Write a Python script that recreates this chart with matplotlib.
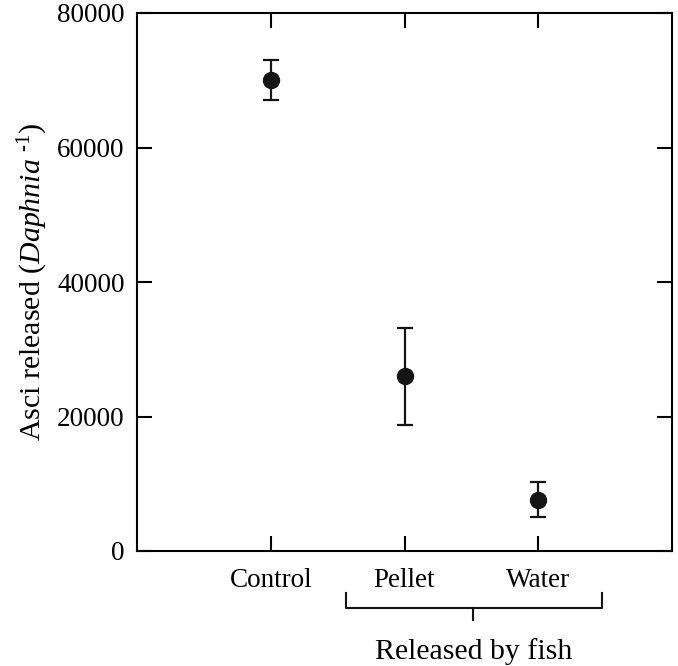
import numpy as np
import matplotlib
matplotlib.use("Agg")
import matplotlib.pyplot as plt
import matplotlib.transforms as mtransforms

groups = ["Control", "Pellet", "Water"]
asci = [70000, 26000, 7600]
err = [3000, 7200, 2600]

plt.rcParams["font.family"] = ["Liberation Serif", "DejaVu Serif"]
plt.rcParams["mathtext.fontset"] = "custom"
plt.rcParams["mathtext.rm"] = "Liberation Serif"
plt.rcParams["mathtext.it"] = "Liberation Serif:italic"

fig = plt.figure(figsize=[6.78, 6.66], dpi=100)
ax = fig.add_axes([137/678, 1-551/666, 535/678, 538/666])

x = np.arange(1, len(groups)+1)
ax.errorbar(x, asci, yerr=err, fmt="o", color="#141414", ms=11.5,
            elinewidth=1.6, capsize=6, capthick=1.6)

ax.set_xlim(0, 4)
ax.set_ylim(0, 80000)
ax.set_yticks([0, 20000, 40000, 60000, 80000])
ax.set_xticks(x)
ax.set_xticklabels(groups, fontsize=21.5)
for s in ax.spines.values():
    s.set_linewidth(1.5)
ax.tick_params(direction="in", length=11, width=1.5, top=True, right=True,
               labelsize=19.5, pad=9)
ax.tick_params(axis="x", pad=12)
ax.set_ylabel(r"Asci released ($\mathit{Daphnia}$ $^{\text{-1}}$)", fontsize=21.5, labelpad=5)

# brace under Pellet and Water
tr = mtransforms.blended_transform_factory(ax.transData, ax.transAxes)
bx0, bx1, bxc = 1.56, 3.48, 2.515
ax.plot([bx0, bx0, bx1, bx1], [-0.078, -0.106, -0.106, -0.078], color="#141414",
        lw=1.5, transform=tr, clip_on=False)
ax.plot([bxc, bxc], [-0.106, -0.128], color="#141414", lw=1.5, transform=tr, clip_on=False)
ax.text(bxc, -0.186, "Released by fish", transform=tr, ha="center", va="center", fontsize=21.5)

plt.savefig("out.png", dpi=100)
